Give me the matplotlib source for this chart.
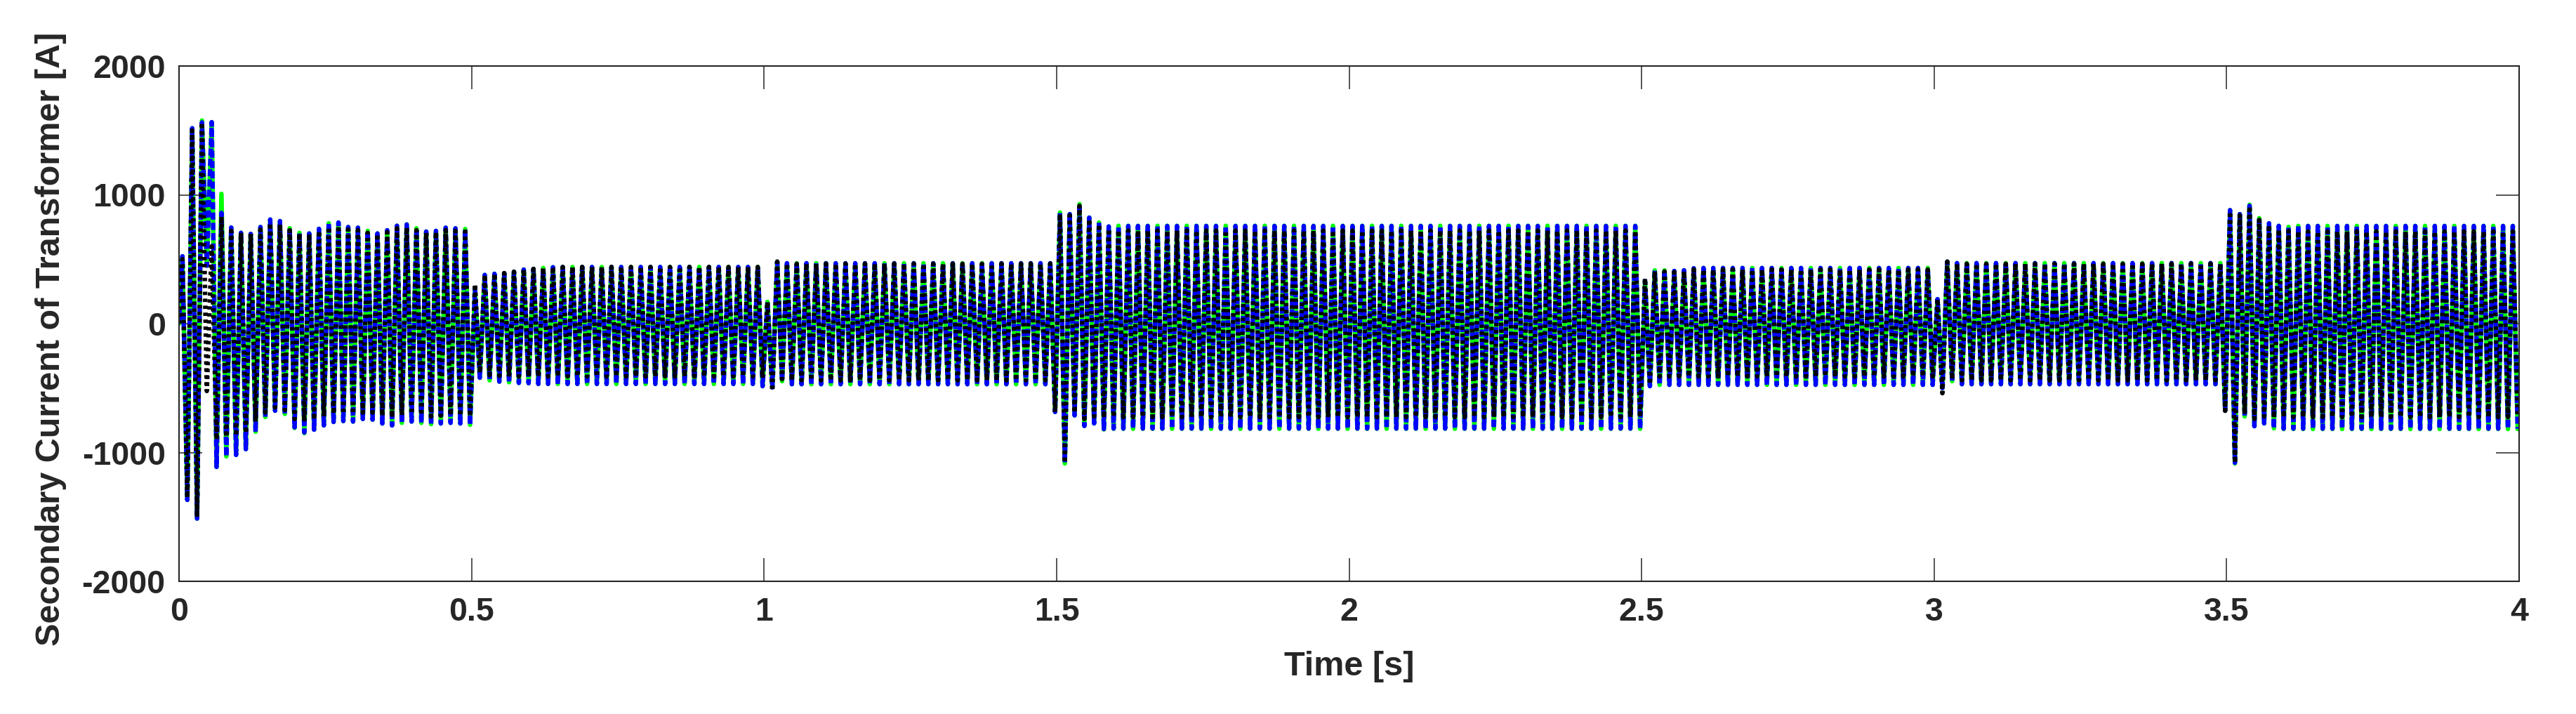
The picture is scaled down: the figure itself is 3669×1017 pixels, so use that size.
import numpy as np
import matplotlib
matplotlib.use("Agg")
import matplotlib.pyplot as plt

# ---------------- data ----------------
FREQ_HZ = 60          # fundamental frequency of the waveform
T_END = 4.0           # s
PHASE = 0.35          # fraction of a cycle before the first positive peak

# per-cycle positive / negative peak values [A], one entry per 60 Hz cycle
green_pos = ([523, 1517, 1577, 1564, 1008, 746, 705, 697, 750, 808, 796, 741, 705, 700, 736,
              779, 785, 750, 745, 720, 700, 725, 760, 770, 740, 715, 720, 745, 740, 735]
             + [270, 378, 387, 392, 403, 420, 425, 432, 438] + [440] * 21
             + [169, 481] + [469] * 28
             + [863, 850, 928, 823, 785, 754] + [760] * 54
             + [332, 414, 414, 409, 414, 430] + [432] * 24
             + [190, 481] + [470] * 28
             + [881, 850, 923, 819, 779, 759, 751] + [759] * 23)
green_neg = ([-1368, -1513, 450, -1112, -1030, -1019, -974, -839, -725, -676, -701, -810, -850,
              -823, -790, -763, -756, -760, -740, -745, -775, -790, -770, -760, -770, -780, -775,
              -770, -775, -785]
             + [-420, -440, -450, -455, -460, -462] + [-468] * 23 + [-485]
             + [-495, -447] + [-470] * 27 + [-685]
             + [-1085, -712, -794, -774, -821] + [-816] * 55
             + [-485] + [-475] * 29
             + [-500, -447] + [-470] * 27 + [-676]
             + [-1085, -720, -796, -774, -812] + [-818] * 25)

blue_pos = ([523, 1517, 1562, 1564, 860, 746, 705, 697, 750, 808, 796, 741, 705, 700, 736,
             779, 785, 750, 745, 720, 700, 725, 760, 770, 740, 715, 720, 745, 740, 735]
            + [267, 378, 387, 392, 403, 420, 425, 432, 438] + [440] * 21
            + [169, 481] + [469] * 28
            + [860, 850, 920, 823, 785, 754] + [758] * 54
            + [332, 414, 414, 409, 414, 430] + [432] * 24
            + [190, 481] + [470] * 28
            + [881, 850, 915, 819, 779, 759, 751] + [758] * 23)
blue_neg = ([-1368, -1513, 450, -1112, -1030, -1019, -974, -839, -725, -676, -701, -805, -845,
             -823, -790, -763, -756, -760, -740, -745, -775, -790, -770, -760, -770, -780, -775,
             -770, -775, -785]
            + [-420, -440, -450, -455, -460, -462] + [-468] * 23 + [-485]
            + [-495, -447] + [-470] * 27 + [-685]
            + [-1080, -712, -794, -774, -818] + [-814] * 55
            + [-485] + [-475] * 29
            + [-500, -447] + [-470] * 27 + [-676]
            + [-1080, -720, -796, -774, -812] + [-815] * 25)

black_pos = ([500, 1500, 1560, 600, 830, 720, 705, 697, 730, 780, 770, 725, 700, 695, 720,
              750, 760, 730, 725, 705, 695, 710, 740, 745, 725, 705, 710, 725, 720, 715]
             + [305, 378, 387, 392, 403, 420, 425, 432, 438] + [440] * 21
             + [169, 481] + [465] * 28
             + [850, 840, 915, 810, 770, 735] + [722] * 54
             + [350, 405, 405, 400, 405, 420] + [420] * 24
             + [190, 481] + [465] * 28
             + [870, 840, 910, 805, 765, 730, 720] + [716] * 23)
black_neg = ([-1350, -1500, -523, -900, -880, -870, -850, -760, -690, -650, -670, -740, -760,
              -745, -720, -700, -700, -700, -690, -690, -715, -725, -710, -700, -710, -720, -715,
              -710, -715, -720]
             + [-380, -400, -405, -410, -410, -410] + [-410] * 23 + [-420]
             + [-521, -430] + [-440] * 27 + [-685]
             + [-1080, -690, -740, -720, -730] + [-725] * 55
             + [-470] + [-410] * 29
             + [-540, -430] + [-440] * 27 + [-676]
             + [-1080, -700, -740, -720, -730] + [-725] * 25)

xtick_values = [0, 0.5, 1, 1.5, 2, 2.5, 3, 3.5, 4]
xtick_labels = ["0", "0.5", "1", "1.5", "2", "2.5", "3", "3.5", "4"]
ytick_values = [-2000, -1000, 0, 1000, 2000]
ytick_labels = ["-2000", "-1000", "0", "1000", "2000"]
x_label = "Time [s]"
y_label = "Secondary Current of Transformer [A]"


def peak_path(pos, neg):
    """Connect the read peaks in time order: start at 0, +peak, -peak, ..."""
    n = len(pos)
    k = np.arange(n)
    t_pos = (k + PHASE) / FREQ_HZ
    t_neg = (k + PHASE + 0.5) / FREQ_HZ
    t = np.empty(2 * n)
    y = np.empty(2 * n)
    t[0::2], t[1::2] = t_pos, t_neg
    y[0::2], y[1::2] = pos, neg
    t = np.concatenate([[0.0], t])
    y = np.concatenate([[0.0], y])
    return t, y


# ---------------- figure ----------------
plt.rcParams["font.family"] = ["Liberation Sans", "DejaVu Sans"]
plt.rcParams["font.weight"] = "bold"
plt.rcParams["axes.unicode_minus"] = False

W, H, DPI = 3669, 1017, 100
fig = plt.figure(figsize=(W / DPI, H / DPI), dpi=DPI)
L, R, T, B = 255, 3588, 94, 828
ax = fig.add_axes([L / W, 1 - B / H, (R - L) / W, (B - T) / H])

LW = 4.6
tg, yg = peak_path(green_pos, green_neg)
tb, yb = peak_path(blue_pos, blue_neg)
tk, yk = peak_path(black_pos, black_neg)

ax.plot(tg, yg, color="#00FF00", lw=LW, solid_joinstyle="round", solid_capstyle="round")
ax.plot(tb, yb, color="#0000FF", lw=LW, dashes=(1.6, 0.7), dash_capstyle="butt",
        dash_joinstyle="round")
ax.plot(tk, yk, color="#000000", lw=LW, dashes=(0.75, 0.8), dash_capstyle="butt",
        dash_joinstyle="round")

ax.set_xlim(0, T_END)
ax.set_ylim(-2000, 2000)
ax.set_xticks(xtick_values)
ax.set_xticklabels(xtick_labels)
ax.set_yticks(ytick_values)
ax.set_yticklabels(ytick_labels)

axis_color = "#262626"
for s in ax.spines.values():
    s.set_color(axis_color)
    s.set_linewidth(1.5)
ax.tick_params(axis="both", which="major", direction="in", length=24, width=1.1,
               colors=axis_color, labelsize=33.5, top=True, right=True)
ax.tick_params(axis="x", pad=16)
ax.tick_params(axis="y", pad=14)
for lab in ax.get_xticklabels() + ax.get_yticklabels():
    lab.set_fontweight("bold")
    lab.set_color(axis_color)

ax.set_xlabel(x_label, fontsize=35, fontweight="bold", color=axis_color, va="center")
ax.set_ylabel(y_label, fontsize=35, fontweight="bold", color=axis_color, va="center")
ax.xaxis.set_label_coords(0.5, (B - 949) / (B - T))
ax.yaxis.set_label_coords((73 - L) / (R - L), (B - 483) / (B - T))

fig.savefig("out.png", dpi=DPI, facecolor="white")
